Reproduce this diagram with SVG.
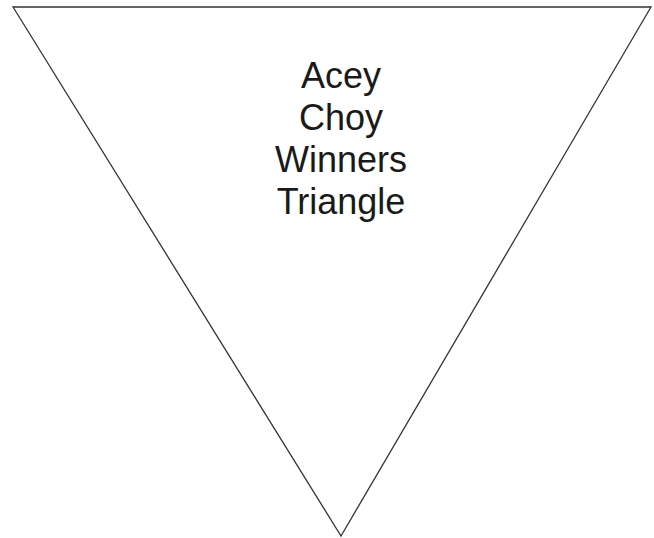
<svg xmlns="http://www.w3.org/2000/svg" width="654" height="538" viewBox="0 0 654 538">
<style>
.shape{fill:#ffffff;stroke:#333333;stroke-width:1.3}
.lbl{font-family:"Liberation Sans",Arial,sans-serif;font-size:36px;fill:#1a1a1a;text-anchor:middle}
</style>
<rect width="654" height="538" fill="#ffffff"/>
<g id="triangle">
<polygon class="shape" points="13,7 651,7 341,536"/>
<text class="lbl" x="341" y="88">Acey</text>
<text class="lbl" x="341" y="130">Choy</text>
<text class="lbl" x="341" y="172">Winners</text>
<text class="lbl" x="341" y="214">Triangle</text>
</g>
</svg>
